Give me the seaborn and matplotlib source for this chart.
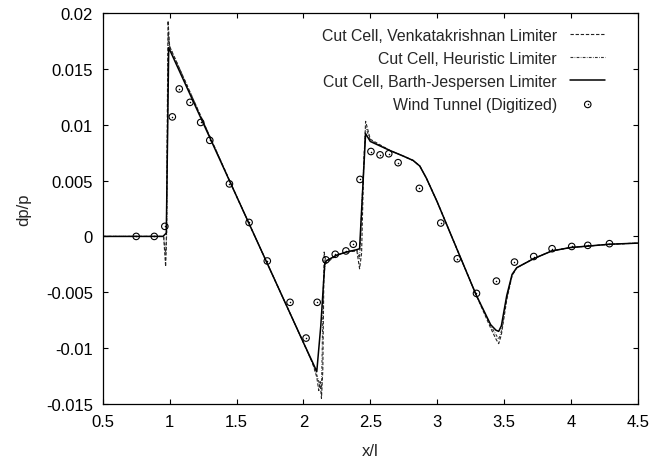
import matplotlib
matplotlib.use("Agg")
import matplotlib.pyplot as plt
import seaborn as sns
import pandas as pd

# Cut-cell solutions (pressure signature along x/l) for three limiters
x_bj = [0.50, 0.90, 0.95, 0.975, 0.993, 1.50, 2.00, 2.07, 2.10, 2.13, 2.16, 2.17,
        2.245, 2.32, 2.395, 2.42, 2.445, 2.465, 2.50, 2.645, 2.745, 2.82, 2.87,
        2.92, 3.00, 3.29, 3.40, 3.44, 3.46, 3.48, 3.52, 3.56, 3.595, 3.72, 3.857,
        3.994, 4.29, 4.50]
y_bj = [0.0, 0.0, 0.0, 0.0003, 0.0169, 0.0036, -0.0095, -0.0113, -0.0121, -0.0080,
        -0.0024, -0.0022, -0.0017, -0.0014, -0.0012, -0.0011, 0.0046, 0.0092,
        0.0085, 0.0077, 0.0072, 0.0068, 0.0063, 0.0052, 0.0031, -0.0052, -0.0079,
        -0.0084, -0.0085, -0.0080, -0.0053, -0.0034, -0.0028, -0.0020, -0.0013,
        -0.0010, -0.0007, -0.0006]

x_venk = [0.50, 0.90, 0.955, 0.970, 0.975, 0.988, 1.00, 1.50, 2.00, 2.07, 2.10,
          2.115, 2.125, 2.135, 2.145, 2.155, 2.17, 2.245, 2.32, 2.40, 2.42, 2.435,
          2.45, 2.465, 2.50, 2.645, 2.745, 2.82, 2.87, 2.92, 3.00, 3.29, 3.40,
          3.44, 3.46, 3.48, 3.52, 3.56, 3.595, 3.72, 3.857, 3.994, 4.29, 4.50]
y_venk = [0.0, 0.0, 0.0, -0.0027, -0.0010, 0.0193, 0.0170, 0.0036, -0.0095,
          -0.0114, -0.0126, -0.0138, -0.0130, -0.0145, -0.0120, -0.0014, -0.0024,
          -0.0017, -0.0014, -0.0013, -0.0029, -0.0015, 0.0060, 0.0103, 0.0087,
          0.0077, 0.0072, 0.0068, 0.0063, 0.0052, 0.0031, -0.0052, -0.0082,
          -0.0092, -0.0096, -0.0088, -0.0057, -0.0035, -0.0028, -0.0020, -0.0013,
          -0.0010, -0.0007, -0.0006]

x_heur = [0.50, 0.90, 0.955, 0.970, 0.978, 0.990, 1.00, 1.50, 2.00, 2.07, 2.10,
          2.12, 2.135, 2.15, 2.165, 2.245, 2.32, 2.40, 2.42, 2.445, 2.465, 2.50,
          2.645, 2.745, 2.82, 2.87, 2.92, 3.00, 3.29, 3.40, 3.44, 3.46, 3.48,
          3.52, 3.56, 3.595, 3.72, 3.857, 3.994, 4.29, 4.50]
y_heur = [0.0, 0.0, 0.0, -0.0015, 0.0002, 0.0180, 0.0170, 0.0036, -0.0095,
          -0.0114, -0.0124, -0.0132, -0.0137, -0.0040, -0.0022, -0.0017, -0.0014,
          -0.0012, -0.0020, 0.0050, 0.0098, 0.0086, 0.0077, 0.0072, 0.0068,
          0.0063, 0.0052, 0.0031, -0.0052, -0.0080, -0.0088, -0.0092, -0.0085,
          -0.0055, -0.0035, -0.0028, -0.0020, -0.0013, -0.0010, -0.0007, -0.0006]

# Digitized wind tunnel measurements
x_wt = [0.75, 0.885, 0.964, 1.02, 1.072, 1.152, 1.232, 1.30, 1.447, 1.594, 1.73,
        1.90, 2.02, 2.103, 2.168, 2.238, 2.318, 2.373, 2.423, 2.505, 2.573,
        2.638, 2.708, 2.867, 3.027, 3.15, 3.294, 3.443, 3.578, 3.722, 3.859,
        4.006, 4.126, 4.288]
y_wt = [0.0, 0.0, 0.0009, 0.0107, 0.0132, 0.0120, 0.0102, 0.0086, 0.0047,
        0.00125, -0.0022, -0.0059, -0.0091, -0.0059, -0.0021, -0.0016, -0.0013,
        -0.0007, 0.0051, 0.0076, 0.0073, 0.0074, 0.0066, 0.0043, 0.0012, -0.0020,
        -0.0051, -0.0040, -0.0023, -0.0018, -0.0011, -0.0009, -0.0008, -0.00065]

x_ticks = [0.5, 1.0, 1.5, 2.0, 2.5, 3.0, 3.5, 4.0, 4.5]
x_ticklabels = ["0.5", "1", "1.5", "2", "2.5", "3", "3.5", "4", "4.5"]
y_ticks = [-0.015, -0.01, -0.005, 0.0, 0.005, 0.01, 0.015, 0.02]
y_ticklabels = ["-0.015", "-0.01", "-0.005", "0", "0.005", "0.01", "0.015", "0.02"]

sns.set_style("ticks")
plt.rcParams["font.family"] = ["Liberation Sans", "DejaVu Sans"]
plt.rcParams["axes.unicode_minus"] = False

fig = plt.figure(figsize=(6.63, 4.6), dpi=100)
ax = fig.add_axes([0.155, 0.1196, 0.807, 0.8500])

df_v = pd.DataFrame({"x": x_venk, "y": y_venk})
df_h = pd.DataFrame({"x": x_heur, "y": y_heur})
df_b = pd.DataFrame({"x": x_bj, "y": y_bj})
df_w = pd.DataFrame({"x": x_wt, "y": y_wt})

sns.lineplot(data=df_v, x="x", y="y", ax=ax, sort=False, estimator=None,
             color="#222222", lw=0.8, linestyle=(0, (3, 1.6)),
             label="Cut Cell, Venkatakrishnan Limiter")
sns.lineplot(data=df_h, x="x", y="y", ax=ax, sort=False, estimator=None,
             color="#333333", lw=0.8, linestyle=(0, (2.5, 1.2, 0.6, 1.2)),
             label="Cut Cell, Heuristic Limiter")
sns.lineplot(data=df_b, x="x", y="y", ax=ax, sort=False, estimator=None,
             color="black", lw=1.1, label="Cut Cell, Barth-Jespersen Limiter")
sns.scatterplot(data=df_w, x="x", y="y", ax=ax, marker="o", s=22,
                facecolor="none", edgecolor="black", linewidth=0.8,
                label="Wind Tunnel (Digitized)", zorder=3)
sns.scatterplot(data=df_w, x="x", y="y", ax=ax, marker="o", s=1.2,
                color="black", linewidth=0, zorder=4)

ax.set_xlim(0.5, 4.5)
ax.set_ylim(-0.015, 0.02)
ax.set_xticks(x_ticks)
ax.set_xticklabels(x_ticklabels)
ax.set_yticks(y_ticks)
ax.set_yticklabels(y_ticklabels)
ax.tick_params(direction="in", length=3.6, width=0.8, pad=7, labelsize=12,
               top=True, right=True, colors="black")
for sp in ax.spines.values():
    sp.set_visible(True)
    sp.set_linewidth(0.9)
    sp.set_color("black")

ax.set_xlabel("x/l", fontsize=12, labelpad=10)
ax.set_ylabel("dp/p", fontsize=12, labelpad=11)

handles, labels = ax.get_legend_handles_labels()
dot_handle = ax.collections[-1]
handles = handles[:3] + [(handles[3], dot_handle)]
leg = ax.legend(handles, labels, loc="upper right", bbox_to_anchor=(0.939, 0.962),
                frameon=False, markerfirst=False, fontsize=11.4, borderpad=0,
                borderaxespad=0, handlelength=2.2, handletextpad=0.85,
                labelspacing=0.5)
for col in leg._legend_handle_box.get_children():
    col.align = "right"

fig.savefig("out.png", dpi=100)
